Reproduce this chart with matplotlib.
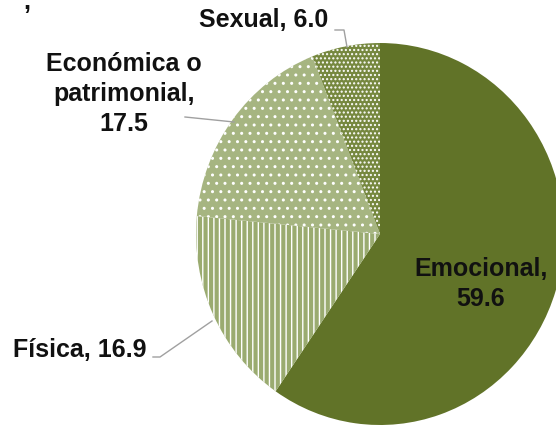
import matplotlib
matplotlib.use("Agg")
import matplotlib.pyplot as plt

# data, clockwise from the top
categories = ["Emocional", "Física", "Económica o\npatrimonial", "Sexual"]
values = [59.6, 16.9, 17.5, 6.0]
face_colors = ["#617328", "#9aab70", "#a6b581", "#76883f"]
hatches = [None, "|||", "..", "...."]

plt.rcParams["font.family"] = ["Liberation Sans", "DejaVu Sans"]
plt.rcParams["hatch.linewidth"] = 1.0

fig = plt.figure(figsize=(5.56, 4.30), dpi=100)
ax = fig.add_axes([0, 0, 1, 1])

# centre at pixel (380, 234); pie is slightly squeezed horizontally
RX, RY = 184.0, 191.0
cx, cy = 380.0, 234.0

wedges, _ = ax.pie(values, startangle=90, counterclock=False, radius=1,
                   colors=face_colors, wedgeprops=dict(linewidth=0))
for w, h in zip(wedges, hatches):
    if h:
        w.set_hatch(h)
        w.set_edgecolor("white")
        w.set_linewidth(0)
ax.set_aspect("auto")
ax.set_xlim(-cx / RX, (556 - cx) / RX)
ax.set_ylim(-(430 - cy) / RY, cy / RY)
ax.axis("off")


def px(x, y):
    return ((x - cx) / RX, (cy - y) / RY)


tstyle = dict(fontsize=18, fontweight="bold", ha="center", va="center",
              color="#111111", linespacing=1.3)

# remnant of a title cut off at the top edge
ax.text(*px(27, 2), ",", **tstyle)

# inside label
ax.text(*px(481, 284), f"{categories[0]},\n{values[0]}", **tstyle)

# outside labels with leader lines
lc = "#a0a0a0"
ax.text(*px(264, 20), f"{categories[3]}, {values[3]}", **tstyle)
ax.plot(*zip(px(335, 30), px(344, 30), px(347, 47)), color=lc, lw=1)

ax.text(*px(124, 94), f"{categories[2]},\n{values[2]}", **tstyle)
ax.plot(*zip(px(185, 117), px(234, 122)), color=lc, lw=1)

ax.text(*px(80, 350), f"{categories[1]}, {values[1]}", **tstyle)
ax.plot(*zip(px(153, 357), px(160, 357), px(212, 321)), color=lc, lw=1)

fig.savefig("out.png", dpi=100)
